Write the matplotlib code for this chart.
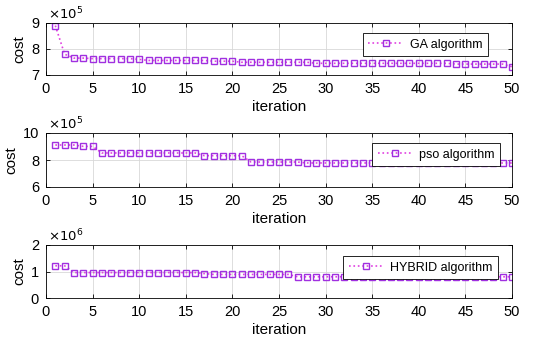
import matplotlib
matplotlib.use("Agg")
import matplotlib.pyplot as plt
from matplotlib.ticker import FixedLocator

iters = list(range(1, 51))

# cost values (x1e5 for GA/PSO, x1e6 for hybrid)
ga = [8.90, 7.80, 7.65, 7.65, 7.63, 7.63, 7.63, 7.63, 7.63, 7.60] + \
     [7.56] * 7 + [7.53] * 3 + [7.49] * 8 + [7.45] * 15 + [7.42] * 6 + [7.32]
pso = [9.11, 9.11, 9.11, 9.01, 9.01] + [8.52] * 11 + [8.32] * 5 + \
      [7.85] * 6 + [7.78] * 23
hybrid = [1.215, 1.215] + [0.96] * 14 + [0.92] + [0.89] * 9 + [0.80] * 24

panels = [
    (ga, "GA algorithm", (7, 9), [7, 8, 9], 5),
    (pso, "pso algorithm", (6, 10), [6, 8, 10], 5),
    (hybrid, "HYBRID algorithm", (0, 2), [0, 1, 2], 6),
]
# axes boxes in pixels: (top, bottom), legend anchor (axes fraction)
boxes = [(23, 75), (133, 187), (245, 298)]
anchors = [(0.948, 0.81), (0.974, 0.815), (0.97, 0.79)]

W, H = 550, 342
fig = plt.figure(figsize=(W / 100, H / 100), dpi=100)
plt.rcParams["font.family"] = ["Liberation Sans", "DejaVu Sans"]

for (vals, label, ylim, yt, exp), (top, bot), anc in zip(panels, boxes, anchors):
    ax = fig.add_axes([46 / W, 1 - bot / H, (512 - 46) / W, (bot - top) / H])
    ax.plot(iters, vals, ":", color="#e040e0", lw=1.2, marker="s", ms=5,
            mfc="none", mec="#a030e0", mew=1.0, label=label)
    ax.set_xlim(0, 50)
    ax.set_ylim(*ylim)
    ax.xaxis.set_major_locator(FixedLocator(range(0, 51, 5)))
    ax.set_yticks(yt)
    ax.grid(True, color="#d8d8d8", lw=0.6)
    ax.tick_params(direction="in", top=True, right=True, labelsize=10.5,
                   length=3, width=0.6, pad=5)
    for s in ax.spines.values():
        s.set_linewidth(0.6)
    ax.set_xlabel("iteration", fontsize=11, labelpad=3)
    ax.set_ylabel("cost", fontsize=11, labelpad=3)
    ax.text(0.005, 1.01, r"$\times10^{%d}$" % exp, transform=ax.transAxes,
            fontsize=9.5, va="bottom", ha="left")
    leg = ax.legend(loc="upper right", bbox_to_anchor=anc, borderaxespad=0,
                    fontsize=9, fancybox=False, framealpha=1,
                    edgecolor="black", handlelength=2.8, handletextpad=0.5,
                    borderpad=0.45)
    leg.get_frame().set_linewidth(0.6)

fig.savefig("out.png", dpi=100)
